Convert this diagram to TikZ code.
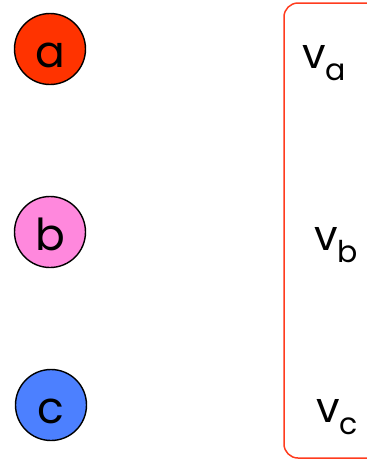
\documentclass[tikz,border=0pt]{standalone}
\usepackage{fontspec}
\setmainfont{Poppins}
\definecolor{cred}{RGB}{255,51,0}
\definecolor{cpink}{RGB}{255,136,221}
\definecolor{cblue}{RGB}{76,128,255}
\definecolor{cframe}{RGB}{255,60,30}
\tikzset{
  ball/.style={circle, draw=black, line width=1.4pt, minimum size=71pt, inner sep=0pt,
    text height=36pt, text depth=0pt, font=\fontsize{44}{44}\selectfont},
  lbl/.style={anchor=base west, inner sep=0pt, font=\fontsize{42}{42}\selectfont},
  frame/.style={draw=cframe, line width=1.5pt, rounded corners=14pt}
}
\newcommand{\sbs}[1]{\raisebox{-0.3em}{\fontsize{30}{30}\selectfont #1}}
\begin{document}
\begin{tikzpicture}[x=1pt,y=-1pt]
\useasboundingbox (0,0) rectangle (367,459);
\clip (0,0) rectangle (367,459);
\node[ball, fill=cred] (a) at (50,49) {a};
\node[ball, fill=cpink] (b) at (50,232) {b};
\node[ball, fill=cblue] (c) at (51,405) {c};
\draw[frame] (284,3) coordinate (f1) rectangle (400,458) coordinate (f2);
\node[lbl] (va) at (302,68) {v\sbs{a}};
\node[lbl] (vb) at (314,250) {v\sbs{b}};
\node[lbl] (vc) at (316,422) {v\sbs{c}};
\end{tikzpicture}
\end{document}
